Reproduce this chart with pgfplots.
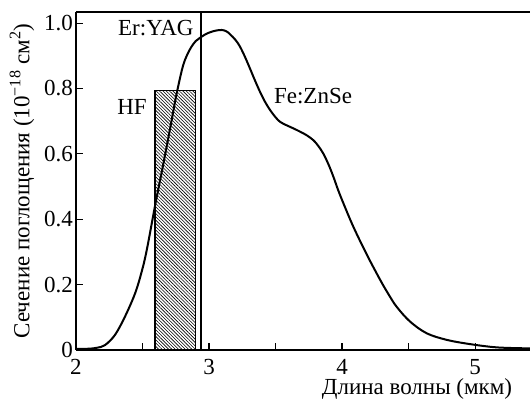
\documentclass[border=0pt]{standalone}
\usepackage{pgfplots}
\pgfplotsset{compat=1.18}
\usepackage{fontspec}
\setmainfont{Liberation Serif}
\usetikzlibrary{patterns.meta}
\pgfplotstableread{
x y
2.000 0.003
2.100 0.004
2.160 0.007
2.218 0.015
2.293 0.046
2.368 0.102
2.444 0.173
2.494 0.240
2.532 0.306
2.596 0.445
2.640 0.535
2.682 0.623
2.720 0.705
2.757 0.785
2.807 0.873
2.857 0.920
2.900 0.945
2.932 0.955
2.970 0.965
3.008 0.972
3.050 0.977
3.095 0.979
3.130 0.975
3.158 0.966
3.200 0.948
3.233 0.928
3.270 0.897
3.308 0.861
3.345 0.825
3.383 0.790
3.420 0.760
3.459 0.734
3.500 0.712
3.534 0.698
3.580 0.688
3.634 0.678
3.684 0.668
3.734 0.657
3.784 0.642
3.820 0.625
3.859 0.601
3.900 0.566
3.935 0.530
3.970 0.490
4.010 0.449
4.085 0.377
4.186 0.292
4.286 0.215
4.350 0.170
4.411 0.132
4.511 0.087
4.637 0.051
4.787 0.031
4.962 0.018
5.163 0.008
5.389 0.005
5.420 0.005
}\curve
\begin{document}
\begin{tikzpicture}[font=\fontsize{23}{27}\selectfont]
\begin{axis}[
  name=ax,
  scale only axis,
  width=454pt, height=338pt,
  xmin=2, xmax=5.413,
  ymin=0, ymax=1.034,
  axis lines=left,
  axis line style={-, line width=1.4pt},
  tick align=inside,
  major tick length=7pt,
  tick style={line width=1.1pt, black},
  xtick={2,2.5,3,3.5,4,4.5,5},
  xticklabels={2,,3,,4,,5},
  ytick={0,0.2,0.4,0.6,0.8,1.0},
  yticklabels={0,0.2,0.4,0.6,0.8,1.0},
  /pgf/number format/assume math mode=true,
  tick label style={font=\fontsize{23}{27}\selectfont},
  yticklabel style={inner sep=0pt, xshift=-3pt},
  xticklabel style={inner sep=0pt, yshift=-9pt},
  label style={font=\fontsize{23}{27}\selectfont},
  xlabel={Длина волны (мкм)},
  xlabel style={at={(axis description cs:0.751,-0.132)}, anchor=base, inner sep=0pt},
  ylabel={Сечение поглощения (10\textsuperscript{\char"2212 18} см\textsuperscript{2})},
  ylabel style={at={(axis description cs:-0.119,0.5)}, anchor=center, rotate=0},
  clip=true,
]
\addplot[draw=black, line width=1.1pt, pattern={Lines[angle=-45, distance=2.35pt, line width=0.6pt]}]
  coordinates {(2.594,0) (2.594,0.795) (2.900,0.795) (2.900,0)} -- cycle;
\addplot[black, line width=1.1pt] coordinates {(2.94,0) (2.94,1.034)};
\addplot[black, line width=2pt, smooth, tension=0.55] table[x=x, y=y] {\curve};
\draw[line width=1.4pt] (rel axis cs:0,1) -- (rel axis cs:1,1);
\node[anchor=east, inner sep=0pt] at (axis cs:2.885,0.986) {Er:YAG};
\node[inner sep=0pt] at (axis cs:2.421,0.743) {HF};
\node[inner sep=0pt] at (axis cs:3.782,0.777) {Fe:ZnSe};
\end{axis}
\pgfresetboundingbox
\path ([xshift=-76pt,yshift=-50pt]ax.south west) rectangle ([yshift=12pt]ax.north east);
\end{tikzpicture}
\end{document}
